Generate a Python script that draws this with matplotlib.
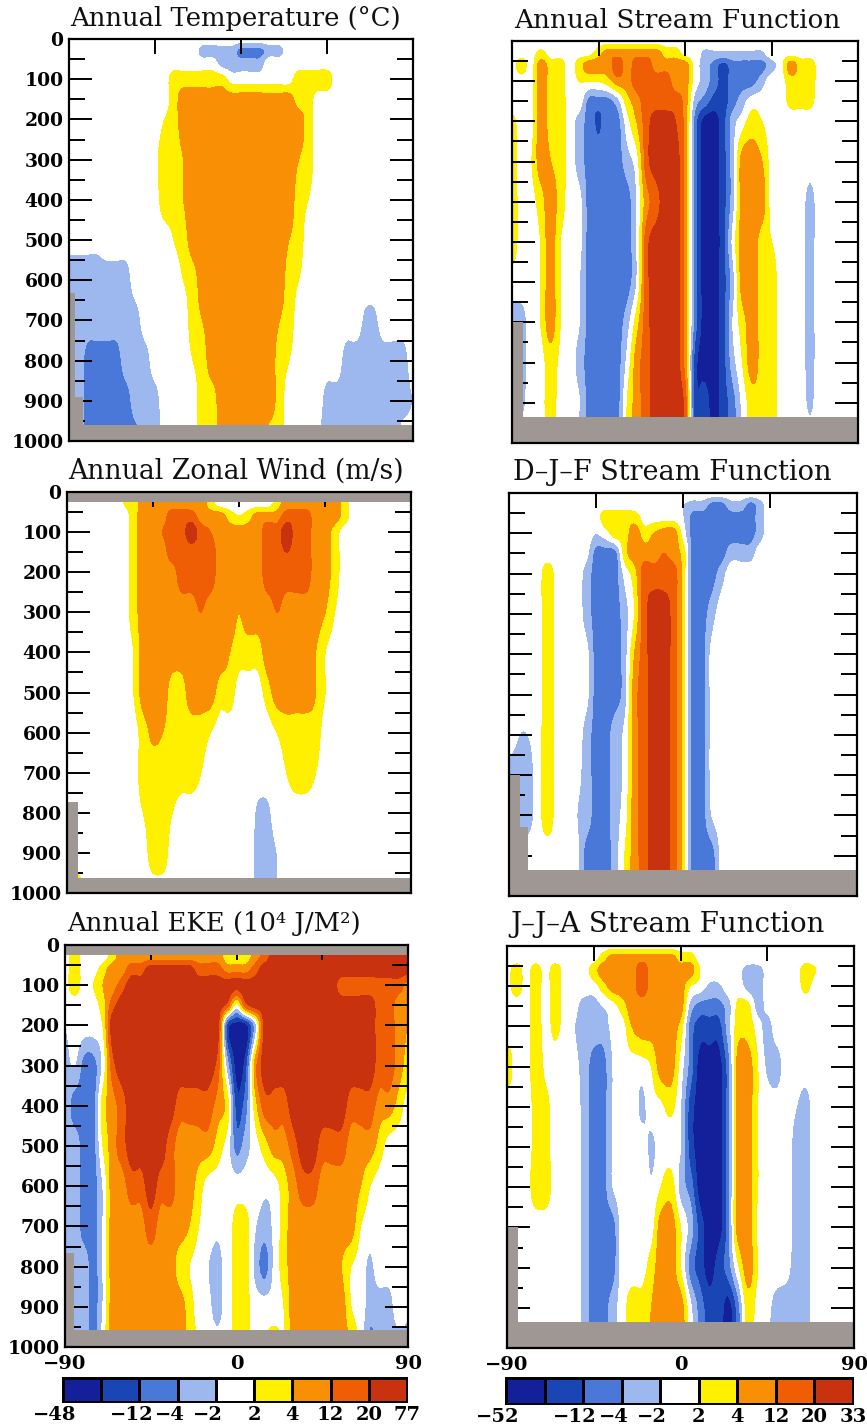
import numpy as np
import matplotlib
matplotlib.use("Agg")
import matplotlib.pyplot as plt

W, H = 867, 1425
LAT = [-90,-85,-80,-75,-70,-65,-60,-55,-50,-45,-40,-35,-30,-25,-20,-15,-10,-5,0,5,10,15,20,25,30,35,40,45,50,55,60,65,70,75,80,85,90]
PRES = [0,30,60,100,150,200,300,400,500,600,700,800,900,1000]
LEVELS_L = [-48,-24,-12,-4,-2,2,4,12,20,77]
LEVELS_R = [-52,-24,-12,-4,-2,2,4,12,20,33]
LABELS_L = ["\u221248","","\u221212","\u22124","\u22122","2","4","12","20","77"]
LABELS_R = ["\u221252","","\u221212","\u22124","\u22122","2","4","12","20","33"]
COLORS = ["#14209a","#1a45b5","#4a78d8","#9cb8ef","#ffffff","#fff000","#f98f05","#ef5e05","#c8320f"]
GRAY = "#9e9794"

TEMP = [
 [0, 0,0,0,0,0,0, 0,0,0,0,0,0, 0,0,0,0,0,0, 0,0,0,0,0,0, 0,0,0,0,0,0, 0,0,0,0,0,0],
 [0, 0,0,0,0,0,0, 0,0,0,0,0,0, 0,-3,-3,-3,-3,-8, -8,-8,-3,-3,0,0, 0,0,0,0,0,0, 0,0,0,0,0,0],
 [0, 0,0,0,0,0,0, 0,0,0,0,0,0, 0,0,0,-3,-3,-3, -3,-3,0,0,0,0, 0,0,0,0,0,0, 0,0,0,0,0,0],
 [0, 0,0,0,0,0,0, 0,0,0,0,3,3, 3,3,3,3,0,0, 0,0,0,0,0,3, 3,3,3,0,0,0, 0,0,0,0,0,0],
 [0, 0,0,0,0,0,0, 0,0,0,0,3,8, 8,8,8,8,8,8, 8,8,8,8,8,3, 3,0,0,0,0,0, 0,0,0,0,0,0],
 [0, 0,0,0,0,0,0, 0,0,0,2,3,8, 8,8,8,8,8,8, 8,8,8,8,8,8, 3,0,0,0,0,0, 0,0,0,0,0,0],
 [0, 0,0,0,0,0,0, 0,0,1,3,3,4, 8,8,8,8,8,8, 8,8,8,8,8,4, 3,0,0,0,0,0, 0,0,0,0,0,0],
 [0, 0,0,0,0,0,0, 0,0,0,3,3,4, 8,8,8,8,8,8, 8,8,8,8,8,3, 2,0,0,0,0,0, 0,0,0,0,0,0],
 [-1, -1,-1,-1,0,0,0, 0,0,0,0,2,3, 8,8,8,8,8,8, 8,8,8,8,4,3, 0,0,0,0,0,0, 0,0,0,0,0,0],
 [-3, -3,-3,-3,-3,-3,-3, 0,0,0,0,0,2, 3,8,8,8,8,8, 8,8,8,8,3,2, 0,0,0,0,0,0, 0,0,0,0,0,0],
 [-3, -3,-3,-3,-3,-3,-3, -3,0,0,0,0,0, 3,4,8,8,8,8, 8,8,8,4,3,0, 0,0,0,0,0,0, -2.5,-2.5,0,0,0,0],
 [-3, -3,-8,-8,-8,-8,-3, -3,-3,0,0,0,0, 2,3,8,8,8,8, 8,8,8,3,2,0, 0,0,0,0,-3,-3, -3,-3,-3,-3,-3,0],
 [-3, -3,-8,-8,-8,-8,-8, -3,-3,-3,0,0,0, 0,3,3,8,8,8, 8,8,8,3,0,0, 0,0,-3,-3,-3,-3, -3,-3,-3,-3,-3,-2],
 [-3, -3,-8,-8,-8,-8,-8, -8,-3,-3,-1,0,0, 0,3,3,8,8,8, 8,8,3,3,0,0, 0,-2,-3,-3,-3,-3, -3,-3,-3,-3,0,0],
]
SF_ANNUAL = [
 [0, 0,0,0,0,0,0, 0,0,0,0,0,0, 0,0,0,0,0,0, 0,0,0,0,0,0, 0,0,0,0,0,0, 0,0,0,0,0,0],
 [0, 0,0,2.5,0,0,0, 0,0,3,8,8,8, 8,8,8,3,3,0, 0,-2.5,-2.5,-2.5,-2.5,-2.5, -2.5,-2.5,0,0,0,0, 0,0,0,0,0,0],
 [0, 3,0,8,3,3,0, 3,8,8,8,16,8, 16,16,8,8,8,8, 0,-3,-8,-18,-8,-8, -8,-8,-3,0,8,3, 3,0,0,0,0,0],
 [0, 0,0,8,3,3,0, 2,2,2,3,8,8, 16,16,16,16,8,8, 0,-3,-8,-18,-8,-8, -8,-3,0,0,3,3, 3,0,0,0,0,0],
 [0, 0,0,8,3,3,0, 0,-8,-8,-8,-3,3, 8,16,16,16,16,8, -3,-8,-18,-18,-8,-3, 0,0,0,0,2.5,2.5, 2.5,0,0,0,0,0],
 [2.5, 0,0,8,3,3,0, -3,-8,-14,-8,-8,0, 4,16,27,27,20,8, -8,-38,-38,-18,-3,0, 3,2,0,0,0,0, 0,0,0,0,0,0],
 [3, 0,1.5,8,4,3,0, -3,-8,-8,-8,-8,-3, 0,16,27,27,27,8, -8,-38,-38,-18,-3,8, 8,4,0,0,0,0, 0,0,0,0,0,0],
 [3, 0,0,3,8,3,0, -1,-8,-8,-8,-8,-8, -2,8,16,27,27,8, -8,-38,-38,-18,-3,8, 8,8,0,0,0,0, -3,0,0,0,0,0],
 [3, 0,0,2,8,2,0, -1,-8,-8,-8,-8,-8, -2,16,27,27,27,8, -8,-38,-38,-18,-1,8, 8,3,2,0,0,0, -3,0,0,0,0,0],
 [0, 0,0,2,8,2,0, -2,-8,-8,-8,-8,-8, -2,16,27,27,27,8, -8,-38,-38,-18,-3,8, 8,3,3,0,0,0, -3,0,0,0,0,0],
 [-3, -3,0,2,8,2,0, -2,-8,-8,-8,-8,-3, 3,16,27,27,27,8, -8,-38,-38,-18,-2,3, 8,3,3,0,0,0, -3,0,0,0,0,0],
 [-3, -3,0,0,3,1,0, -3,-8,-8,-8,-8,-1, 8,16,27,27,27,8, -18,-38,-38,-18,-3,2, 8,3,3,0,0,0, -3,0,0,0,0,0],
 [0, -2.5,0,0,3,0,0, -2,-8,-8,-8,-8,2, 8,16,27,27,27,16, -18,-18,-38,-18,-8,-1, 3,3,3,0,0,0, -2.5,0,0,0,0,0],
 [0, 0,0,0,2.5,0,0, -3,-8,-8,-8,-8,2, 8,16,27,27,27,16, -18,-18,-38,-18,-8,-1, 3,3,3,0,0,0, 0,0,0,0,0,0],
]
ZONAL = [
 [0, 0,0,0,0,0,2, 3,8,8,8,8,8, 8,8,3,0,0,0, 0,0,0,3,8,8, 8,8,8,8,3,0, 0,0,0,0,0,0],
 [0, 0,0,0,0,0,2, 3,8,8,8,8,8, 8,8,3,0,0,0, 0,0,0,3,8,8, 8,8,8,8,3,0, 0,0,0,0,0,0],
 [0, 0,0,0,0,0,0, 3,8,8,8,16,16, 16,8,8,8,3,2, 3,8,8,8,16,16, 16,8,8,8,3,0, 0,0,0,0,0,0],
 [0, 0,0,0,0,0,0, 3,8,8,12,16,16, 48,16,12,8,8,8, 8,8,16,16,48,16, 16,8,8,3,0,0, 0,0,0,0,0,0],
 [0, 0,0,0,0,0,0, 3,8,8,8,16,16, 16,16,16,8,8,8, 8,8,16,16,20,16, 16,8,8,3,0,0, 0,0,0,0,0,0],
 [0, 0,0,0,0,0,0, 3,8,8,8,8,16, 16,16,16,8,8,8, 8,8,16,16,16,16, 16,8,8,3,0,0, 0,0,0,0,0,0],
 [0, 0,0,0,0,0,0, 3,8,8,8,8,8, 8,12,8,8,8,4, 8,8,8,12,8,8, 8,8,4,2,0,0, 0,0,0,0,0,0],
 [0, 0,0,0,0,0,0, 2,8,8,8,8,8, 8,8,8,8,4,3, 3,3,8,8,8,8, 8,4,2,0,0,0, 0,0,0,0,0,0],
 [0, 0,0,0,0,0,0, 2,8,8,8,3,3, 8,8,8,3,3,0, 0,0,3,8,8,8, 8,4,2,0,0,0, 0,0,0,0,0,0],
 [0, 0,0,0,0,0,0, 0,3,5.6,4,3,3, 3,3,2,0,0,0, 0,0,0,2,3,3, 3,3,0,0,0,0, 0,0,0,0,0,0],
 [0, 0,0,0,0,0,0, 0,3,3,3,3,3, 3,2,0,0,0,0, 0,0,0,0,2,3, 3,2,0,0,0,0, 0,0,0,0,0,0],
 [0, 0,0,0,0,0,0, 0,2,3,3,2,0, 0,0,0,0,0,0, 0,-2.5,-2.5,0,0,0, 0,0,0,0,0,0, 0,0,0,0,0,0],
 [0, 0,0,0,0,0,0, 0,0,3,3,0,0, 0,0,0,0,0,0, 0,-3,-3,-2,0,0, 0,0,0,0,0,0, 0,0,0,0,0,0],
 [0, 3,0,0,0,0,0, 0,0,0,0,0,0, 0,0,0,0,0,0, 0,-3,-3,-2,0,0, 0,0,0,0,0,0, 0,0,0,0,0,0],
]
SF_DJF = [
 [0, 0,0,0,0,0,0, 0,0,0,0,0,0, 0,0,0,0,0,0, 0,0,0,0,0,0, 0,0,0,0,0,0, 0,0,0,0,0,0],
 [0, 0,0,0,0,0,0, 0,0,0,0,0,0, 0,0,0,0,0,-2, -3,-3,-8,-8,-3,-3, -8,-3,0,0,0,0, 0,0,0,0,0,0],
 [0, 0,0,0,0,0,0, 0,0,0,3,3,3, 3,0,0,0,0,-2, -8,-8,-8,-8,-8,-8, -8,-3,0,0,0,0, 0,0,0,0,0,0],
 [0, 0,0,0,0,0,0, 0,0,-2,0,3,3, 8,3,4,8,8,0, -8,-8,-8,-8,-8,-8, -8,-3,0,0,0,0, 0,0,0,0,0,0],
 [0, 0,0,0,0,0,0, 0,-1,-8,-8,-8,3, 8,8,8,12,8,3, -8,-8,-8,-8,-3,-3, -3,0,0,0,0,0, 0,0,0,0,0,0],
 [0, 0,0,0,3,0,0, 0,-3,-8,-8,-8,-1, 3,16,16,16,16,3, -8,-8,-8,-3,0,0, 0,0,0,0,0,0, 0,0,0,0,0,0],
 [0, 0,0,0,3,0,0, 0,-3,-8,-8,-8,-3, 2,16,27,27,16,3, -8,-8,-3,0,0,0, 0,0,0,0,0,0, 0,0,0,0,0,0],
 [0, 0,0,0,3,0,0, 0,-1,-8,-8,-8,-3, 4,16,27,27,16,3, -8,-8,-1,0,0,0, 0,0,0,0,0,0, 0,0,0,0,0,0],
 [0, 0,0,0,3,0,0, 0,-1,-8,-8,-8,-3, 8,16,27,27,16,3, -8,-8,-1,0,0,0, 0,0,0,0,0,0, 0,0,0,0,0,0],
 [0, -2,-2,0,3,0,0, 0,-3,-8,-8,-3,-1, 8,16,27,27,16,3, -8,-8,-1,0,0,0, 0,0,0,0,0,0, 0,0,0,0,0,0],
 [-3, -3,-3,0,3,0,0, -1,-3,-8,-8,-3,-1, 8,16,27,27,16,3, -8,-8,-1,0,0,0, 0,0,0,0,0,0, 0,0,0,0,0,0],
 [-3, -3,-3,0,3,0,0, -2,-3,-8,-8,-3,0, 8,16,27,27,16,3, -8,-8,-2,0,0,0, 0,0,0,0,0,0, 0,0,0,0,0,0],
 [0, 0,0,0,0,0,0, -1,-8,-8,-8,-3,2, 8,16,27,27,16,3, -8,-8,-8,-1,0,0, 0,0,0,0,0,0, 0,0,0,0,0,0],
 [0, 0,0,0,0,0,0, -1,-8,-8,-8,-3,2, 8,16,27,27,16,3, -8,-8,-8,-1,0,0, 0,0,0,0,0,0, 0,0,0,0,0,0],
]
EKE = [
 [0, 3,0,0,0,3,8, 8,8,8,8,8,8, 8,8,8,8,3,3, 3,8,16,48,48,48, 48,48,48,48,48,48, 48,48,48,48,48,48],
 [0, 3,0,0,0,3,8, 8,8,8,8,8,8, 8,8,8,8,3,3, 3,8,16,48,48,48, 48,48,48,48,48,48, 48,48,48,48,48,48],
 [0, 3,0,0,3,8,8, 16,16,48,48,48,48, 48,16,16,16,8,8, 8,16,48,48,48,48, 48,48,48,48,48,48, 48,48,48,48,48,48],
 [0, 3,0,2,4,8,16, 48,48,48,48,48,48, 48,48,48,48,48,48, 48,48,48,48,48,48, 48,48,48,48,16,16, 16,16,16,16,16,8],
 [0, 0,0,0,3,16,48, 48,48,48,48,48,48, 48,48,48,48,16,0, 16,48,48,48,48,48, 48,48,48,48,48,48, 48,48,16,16,8,8],
 [-2, 0,0,0,2,48,48, 48,48,48,48,48,48, 48,48,48,48,-18,-36, -36,-3,48,48,48,48, 48,48,48,48,48,48, 48,48,16,16,8,4],
 [-3, -2,-8,-8,-1,16,48, 48,48,48,48,48,48, 48,48,48,16,-3,-36, -18,8,48,48,48,48, 48,48,48,48,48,48, 48,48,16,16,8,3],
 [-3, -8,-8,-8,3,8,16, 48,48,48,48,48,16, 16,16,16,8,3,-18, -8,3,16,16,16,48, 48,48,48,48,48,16, 16,16,8,8,3,0],
 [-3, -3,-8,-8,2,8,16, 48,48,48,48,16,8, 8,8,8,3,0,-8, -3,0,3,8,8,16, 48,48,16,16,16,8, 8,8,3,0,0,0],
 [-3, -3,-8,-8,-2,8,8, 16,16,48,16,16,8, 8,3,0,0,0,0, 0,0,-1,0,3,8, 16,16,8,8,8,8, 4,2,0,0,0,0],
 [-3, -3,-8,-8,-2,8,8, 8,8,16,8,8,8, 4,2,0,-1,0,2.5, 2.5,-2,-3,-1,3,8, 8,8,8,8,8,8, 2,0,0,0,0,0],
 [-3, -3,-3,-8,-2,8,8, 8,8,8,8,8,3, 2,0,-2,-3,0,2.5, 2.5,-3,-8,-1,3,8, 8,8,8,8,4,2, 0,-2.5,0,0,0,0],
 [-3, -3,-3,-8,-2,8,8, 8,8,8,8,8,8, 3,0,-1,-3,0,2.5, 2.5,0,0,0,2,8, 8,8,8,8,8,2, 0,-3,-3,-3,0,-1],
 [-3, -3,-3,-8,0,8,8, 8,8,8,8,8,8, 3,2,0,0,0,2.5, 2.5,0,2,3,2,8, 8,8,8,8,8,4, 0,-8,-3,-3,-3,-3],
]
SF_JJA = [
 [0, 0,0,0,0,0,0, 0,0,0,0,0,0, 0,0,0,0,0,0, 0,0,0,0,0,0, 0,0,0,0,0,0, 0,0,0,0,0,0],
 [0, 0,0,0,0,0,0, 0,0,0,3,8,8, 8,8,8,8,8,3, 3,0,0,0,0,0, 0,0,0,0,0,0, 0,0,0,0,0,0],
 [0, 3,0,3,0,3,0, 0,0,3,8,8,8, 8,16,8,8,8,8, 8,2,0,0,0,-1, -3,-3,-1,0,0,0, 3,2,0,0,0,0],
 [0, 3,0,3,0,3,0, 0,0,0,3,8,8, 8,16,8,8,8,8, 2,0,-2.5,-2.5,0,0, -3,-3,-1,0,0,0, 2.5,0,0,0,0,0],
 [0, 0,0,3,0,3,0, -1,-3,-3,-2,0,3, 8,8,8,8,8,8, -3,-8,-8,-8,-3,2.5, 2.5,-3,-1,0,0,0, 0,0,0,0,0,0],
 [0, 0,0,3,0,2.5,0, -2,-3,-3,-3,-1,0, 4,8,8,8,8,3, -8,-18,-18,-18,-3,3, 3,0,-3,0,0,0, 0,0,0,0,0,0],
 [3, 0,0,3,1,0,0, -1,-3,-8,-8,-2,0, 0,0,2,8,8,0, -8,-38,-38,-38,-8,8, 8,2,-2.5,-3,0,0, 0,0,0,0,0,0],
 [0, 0,0,2.5,2.5,0,0, 0,-3,-8,-8,-2,0, 0,-2.5,0,1,2.5,-2, -18,-38,-38,-38,-8,8, 8,2,0,0,0,-2, -3,0,0,0,0,0],
 [0, 0,0,2.5,2.5,0,0, 0,-3,-8,-8,-2,0, 0,0,-2.5,0,0,-2, -18,-38,-38,-38,-8,8, 8,2,0,0,0,-3, -3,0,0,0,0,0],
 [0, 0,0,3,3,0,0, 0,-3,-8,-8,-2,0, 0,0,-1.5,2,3,-3, -8,-38,-38,-38,-8,8, 8,2,0,0,0,-3, -3,0,0,0,0,0],
 [0, 0,0,0,0,0,0, 0,-3,-8,-8,-8,0, 0,0,0,8,8,2, -3,-18,-38,-38,-8,8, 8,1,0,0,0,-3, -3,0,0,0,0,0],
 [0, 0,0,0,0,0,0, 0,-3,-8,-8,-8,0, 0,0,3,8,8,2, -8,-18,-38,-18,-8,1, 8,2,0,0,-1,-3, -3,0,0,0,0,0],
 [0, 0,0,0,0,0,0, 0,-3,-8,-8,-3,0, 3,3,4,8,8,8, -1,-8,-18,-18,-38,-8, 3,0,-1,-3,-3,-3, -3,0,0,0,0,0],
 [0, 0,0,0,0,0,0, 0,-3,-8,-8,-3,0, 3,3,4,8,8,8, -1,-8,-18,-18,-38,-8, 3,0,-2,-3,-3,-3, -3,0,0,0,0,0],
]

TITLES = ["Annual Temperature (\u00b0C)", "Annual Stream Function", "Annual Zonal Wind (m/s)",
          "D\u2013J\u2013F Stream Function", "Annual EKE (10\u2074 J/M\u00b2)", "J\u2013J\u2013A Stream Function"]
GROUND_LAT = [[-90,-86.9,-82.5,90],[-90,-84.3,90],[-90,-84.4,90],[-90,-84.5,-80.1,90],[-90,-85.3,90],[-90,-84.5,90]]
GROUND_P = [[632,890,960,960],[700,935,935],[772,962,962],[700,829,935,935],[766,958,958],[699,935,935]]
TOP_P = [0,0,25,0,25,0]
PANEL_DATA = [TEMP, SF_ANNUAL, ZONAL, SF_DJF, EKE, SF_JJA]
PANEL_LEVELS = [LEVELS_L, LEVELS_R, LEVELS_L, LEVELS_R, LEVELS_L, LEVELS_R]

BOXES = [(69,413,39,441),(512,858,41,443),(67,411,492,893),(509,857,493,896),(65,408,945,1347),(507,854,946,1348)]
TITLE_POS = [(70,18,332),(514,20,328),(68,471,336),(513,472,320),(67,923,295),(510,925,316)]
SERIF = "DejaVu Serif"

fig = plt.figure(figsize=(W/100, H/100), dpi=100, facecolor="white")

def axpx(l, r, t, b):
    return fig.add_axes([l/W, 1-b/H, (r-l)/W, (b-t)/H])

def smooth_axis(z, axis, n=6):
    # Catmull-Rom rendering of the grid so that band edges are drawn round, passing through the read nodes
    z = np.moveaxis(z, axis, 0)
    N = z.shape[0]
    xs = np.linspace(0, N-1, (N-1)*n+1)
    i = np.clip(np.floor(xs).astype(int), 0, N-2)
    f = (xs-i).reshape((-1,)+(1,)*(z.ndim-1))
    p0, p1, p2, p3 = z[np.clip(i-1, 0, N-1)], z[i], z[i+1], z[np.clip(i+2, 0, N-1)]
    out = 0.5*(2*p1+(p2-p0)*f+(2*p0-5*p1+4*p2-p3)*f**2+(3*p1-p0-3*p2+p3)*f**3)
    return np.moveaxis(out, 0, axis), xs

renderer = fig.canvas.get_renderer()
for i, (data, lev, box) in enumerate(zip(PANEL_DATA, PANEL_LEVELS, BOXES)):
    ax = axpx(*box)
    z = np.interp(np.array(data, float), lev, np.arange(10))
    z, xa = smooth_axis(z, 1)
    z, ya = smooth_axis(z, 0)
    z = np.clip(z, 0.001, 8.999)
    xf = np.interp(xa, np.arange(len(LAT)), LAT)
    yf = np.interp(ya, np.arange(len(PRES)), PRES)
    cs = ax.contourf(xf, yf, z, levels=np.arange(10), colors=COLORS)
    cs.set_edgecolor("face")
    cs.set_linewidth(0.3)
    ax.fill_between(GROUND_LAT[i], GROUND_P[i], 1000, step="post", color=GRAY, lw=0, zorder=3)
    if TOP_P[i]:
        ax.fill_between([-90, 90], 0, TOP_P[i], color=GRAY, lw=0, zorder=3)
    ax.set_xlim(-90, 90)
    ax.set_ylim(1000, 0)
    ax.set_axisbelow(False)
    ax.set_yticks(np.arange(0, 1001, 100))
    ax.set_yticks(np.arange(50, 1000, 100), minor=True)
    ax.set_xticks([-90, -45, 0, 45, 90])
    ax.tick_params(axis="y", which="major", direction="in", length=16.5, width=1.4, left=True, right=True, pad=4)
    ax.tick_params(axis="y", which="minor", direction="in", length=11.5, width=1.4, left=True, right=True)
    ax.tick_params(axis="x", which="major", direction="in", length=11, width=1.4, top=True, bottom=True, pad=6)
    for sp in ax.spines.values():
        sp.set_linewidth(1.6)
        sp.set_zorder(6)
    if i % 2 == 0:
        ax.set_yticklabels([str(v) for v in range(0, 1001, 100)], fontfamily=SERIF, fontweight="bold", fontsize=13.5)
    else:
        ax.set_yticklabels([])
    if i >= 4:
        ax.set_xticklabels(["\u221290", "", "0", "", "90"], fontfamily=SERIF, fontweight="bold", fontsize=14)
    else:
        ax.set_xticklabels([])
    x0, yc, tw = TITLE_POS[i]
    t = fig.text(x0/W, 1-yc/H, TITLES[i], family=SERIF, fontsize=15, ha="left", va="center", color="#111111")
    t.set_fontsize(15*tw/t.get_window_extent(renderer).width)

CBAR_BOX = [(63,407,1378,1402),(506,853,1378,1404)]
for box, labels in zip(CBAR_BOX, [LABELS_L, LABELS_R]):
    cax = axpx(*box)
    cax.pcolormesh(np.arange(10), [0, 1], [np.arange(9)], cmap=matplotlib.colors.ListedColormap(COLORS),
                   vmin=-0.5, vmax=8.5, edgecolors="black", linewidth=1.0)
    cax.set_xlim(0, 9)
    cax.set_xticks([])
    cax.set_yticks([])
    for sp in cax.spines.values():
        sp.set_linewidth(1.4)
    for k, lab in enumerate(labels):
        dx = -8 if lab.startswith("\u2212") else 0
        cax.annotate(lab, xy=(k, 0), xycoords=("data", "axes fraction"), xytext=(dx, -13),
                     textcoords="offset pixels", ha="center", va="center", family=SERIF,
                     fontweight="bold", fontsize=14, annotation_clip=False)

fig.savefig("out.png", dpi=100, facecolor="white")
